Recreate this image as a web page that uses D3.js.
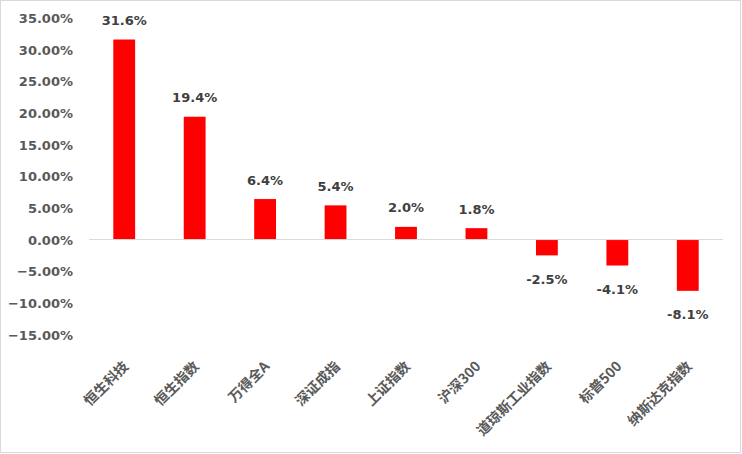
<!DOCTYPE html>
<html><head><meta charset="utf-8">
<script src="https://cdn.jsdelivr.net/npm/d3@7"></script>
<style>html,body{margin:0;padding:0;background:#fff;}svg{display:block;}</style>
</head><body>
<script>
const categories = ["恒生科技","恒生指数","万得全A","深证成指","上证指数","沪深300","道琼斯工业指数","标普500","纳斯达克指数"];
const values = [31.6, 19.4, 6.4, 5.4, 2.0, 1.8, -2.5, -4.1, -8.1];
const yTicks = [35, 30, 25, 20, 15, 10, 5, 0, -5, -10, -15];

const W = 742, H = 454;
const svg = d3.select("body").append("svg").attr("width", W).attr("height", H);
svg.append("rect").attr("x",0.5).attr("y",0.5).attr("width",W-2).attr("height",H-2)
  .attr("fill","#fff").attr("stroke","#d9d9d9");

const x = d3.scaleBand().domain(categories).range([89, 723]).paddingInner(0.69).paddingOuter(0.345);
const y = d3.scaleLinear().domain([-15, 35]).range([334.5, 18]);

// y axis labels
const yAxis = d3.axisLeft(y).tickValues(yTicks).tickSize(0).tickPadding(0)
  .tickFormat(d => d3.format(".2f")(d) + "%");
const ga = svg.append("g").attr("transform","translate(73,0)").call(yAxis);
ga.select(".domain").remove();
ga.selectAll("text").attr("fill","#595959").attr("font-family","DejaVu Sans, Verdana, sans-serif")
  .attr("font-weight","bold").attr("font-size",13).attr("dy","0.35em");

// bars
svg.append("g").selectAll("rect").data(values).join("rect")
  .attr("x",(d,i)=>x(categories[i]))
  .attr("width", x.bandwidth())
  .attr("y", d => y(Math.max(0,d)))
  .attr("height", d => Math.abs(y(d)-y(0)))
  .attr("fill","#ff0000");

// zero line
svg.append("line").attr("x1",89).attr("x2",723).attr("y1",y(0)).attr("y2",y(0))
  .attr("stroke","#d9d9d9").attr("stroke-width",1);

// data labels
svg.append("g").selectAll("text").data(values).join("text")
  .attr("x",(d,i)=>x(categories[i]) + x.bandwidth()/2)
  .attr("y", d => d >= 0 ? y(d) - 19 : y(d) + 24)
  .attr("dy","0.35em")
  .attr("text-anchor","middle")
  .attr("fill","#404040").attr("font-family","DejaVu Sans, Verdana, sans-serif")
  .attr("font-weight","bold").attr("font-size",13)
  .text(d => d.toFixed(1) + "%");

// x category labels
svg.append("g").selectAll("text").data(categories).join("text")
  .attr("transform", d => `translate(${x(d) + x.bandwidth()/2 + 1},${363}) rotate(-45)`)
  .attr("text-anchor","end")
  .attr("dominant-baseline","central")
  .attr("fill","#595959").attr("font-family","'Noto Sans CJK SC', sans-serif")
  .attr("font-weight","bold").attr("font-size",14)
  .text(d => d);
</script>
</body></html>
